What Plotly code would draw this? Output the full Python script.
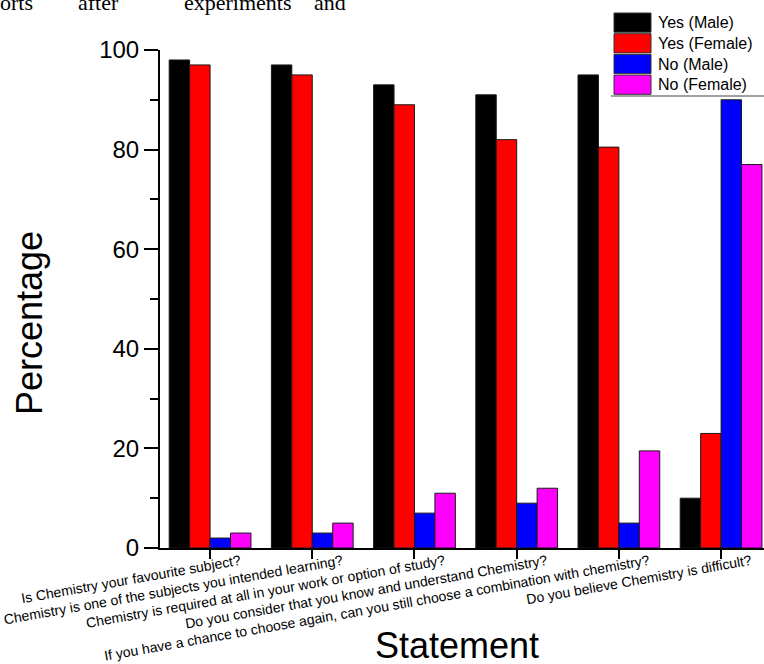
import plotly.graph_objects as go

# Survey statements (x categories)
statements = [
    "Is Chemistry your favourite subject?",
    "Chemistry is one of the subjects you intended learning?",
    "Chemistry is required at all in your work or option of study?",
    "Do you consider that you know and understand Chemistry?",
    "If you have a chance to choose again, can you still choose a combination with chemistry?",
    "Do you believe Chemistry is difficult?",
]

# Percentage of responses per group
yes_male = [98, 97, 93, 91, 95, 10]
yes_female = [97, 95, 89, 82, 80.5, 23]
no_male = [2, 3, 7, 9, 5, 90]
no_female = [3, 5, 11, 12, 19.5, 77]

series_names = ["Yes (Male)", "Yes (Female)", "No (Male)", "No (Female)"]
series_values = [yes_male, yes_female, no_male, no_female]
series_colors = ["#000000", "#ff0000", "#0000ff", "#ff00ff"]

# Fragment of the surrounding page text above the figure
page_words = ["orts", "after", "experiments", "and"]

W, H = 764, 664
ML, MR, MT, MB = 160, 0, 50, 116
PW, PH = W - ML - MR, H - MT - MB


def px_x(x):
    return (x - ML) / PW


def px_y(y):
    return (H - MB - y) / PH


fig = go.Figure()
for name, vals, col in zip(series_names, series_values, series_colors):
    fig.add_trace(go.Bar(
        x=statements, y=vals, name=name,
        marker=dict(color=col, line=dict(color="#1a1a1a", width=1)),
        showlegend=False,
    ))

font_family = "Liberation Sans, Arial, sans-serif"

fig.update_layout(
    width=W, height=H,
    margin=dict(l=ML, r=MR, t=MT, b=MB, pad=0),
    paper_bgcolor="white", plot_bgcolor="white",
    barmode="group", bargap=0.2, bargroupgap=0,
    font=dict(family=font_family, color="black"),
)

fig.update_xaxes(
    range=[-0.49, 5.42],
    showline=True, linewidth=2, linecolor="black",
    ticks="outside", ticklen=9, tickwidth=1.5, tickcolor="black",
    tickangle=-10, tickfont=dict(size=14, family=font_family, color="black"),
    ticklabelshift=30, ticklabelstandoff=-11,
    showgrid=False, zeroline=False,
    automargin=False,
)

fig.update_yaxes(
    range=[0, 100], dtick=20,
    showline=True, linewidth=2, linecolor="black",
    ticks="outside", ticklen=14, tickwidth=2, tickcolor="black",
    minor=dict(dtick=10, ticks="outside", ticklen=8, tickwidth=2, tickcolor="black", showgrid=False),
    tickfont=dict(size=24, family=font_family, color="black"),
    showgrid=False, zeroline=False,
    automargin=False,
)

# Axis titles placed explicitly
fig.add_annotation(text="Statement", xref="paper", yref="paper",
                   x=px_x(457), y=px_y(645), xanchor="center", yanchor="middle",
                   showarrow=False, font=dict(size=36, family=font_family, color="black"))
fig.add_annotation(text="Percentage", xref="paper", yref="paper",
                   x=px_x(30), y=px_y(323), xanchor="center", yanchor="middle",
                   textangle=-90, showarrow=False,
                   font=dict(size=36, family=font_family, color="black"))

# Legend drawn as swatches + labels in the upper right corner
sw_x0, sw_x1 = 614, 651
row_top, row_h = 13, 20.7
for i, (name, col) in enumerate(zip(series_names, series_colors)):
    y0 = row_top + i * row_h
    y1 = y0 + row_h - 1.5
    fig.add_shape(type="rect", xref="paper", yref="paper",
                  x0=px_x(sw_x0), x1=px_x(sw_x1), y0=px_y(y1), y1=px_y(y0),
                  fillcolor=col, line=dict(color="#333333", width=1), layer="above")
    fig.add_annotation(text=name, xref="paper", yref="paper",
                       x=px_x(656), y=px_y((y0 + y1) / 2), xanchor="left", yanchor="middle",
                       showarrow=False, font=dict(size=16, family=font_family, color="black"))
fig.add_shape(type="line", xref="paper", yref="paper",
              x0=px_x(611), x1=px_x(764), y0=px_y(96), y1=px_y(96),
              line=dict(color="#444444", width=1.2))

# Page text fragment at the very top
for word, wx in zip(page_words, [-2, 76, 182, 312]):
    fig.add_annotation(text=word, xref="paper", yref="paper",
                       x=px_x(wx), y=px_y(3), xanchor="left", yanchor="middle",
                       showarrow=False,
                       font=dict(size=22, family="Liberation Serif, Times New Roman, serif", color="black"))

fig.write_html("out.html")
